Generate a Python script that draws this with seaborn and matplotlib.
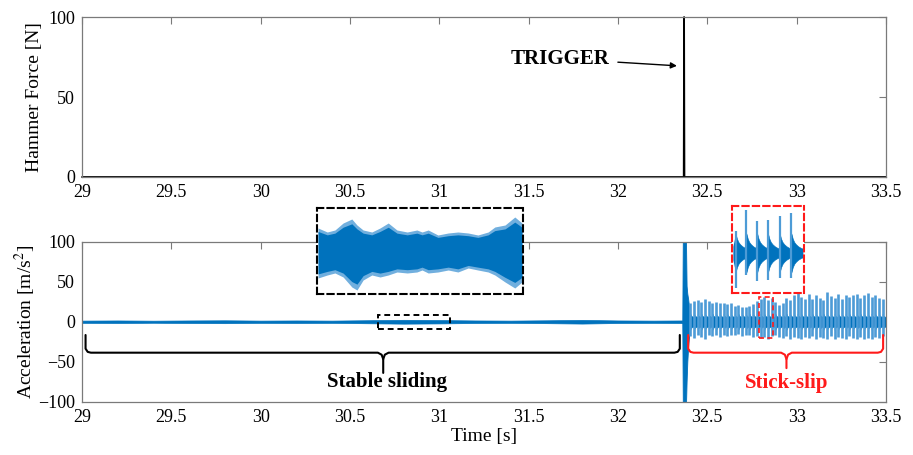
import numpy as np
import matplotlib
matplotlib.use("Agg")
import matplotlib.pyplot as plt
from matplotlib.patches import Rectangle
import seaborn as sns

# ---- data ----
# hammer force [N]
hammer_t = [29.0, 32.368, 32.370, 32.372, 33.5]
hammer_f = [0, 0, 100, 0, 0]

# stable sliding: acceleration envelope [m/s^2]
stable_t = [29.0, 29.2, 29.4, 29.6, 29.8, 30.0, 30.2, 30.4, 30.6, 30.8,
            31.0, 31.2, 31.4, 31.6, 31.8, 32.0, 32.2, 32.36]
stable_amp = [1.4, 1.6, 1.3, 1.6, 1.8, 1.4, 1.6, 1.4, 1.9, 2.4,
              2.1, 1.6, 1.4, 1.8, 2.3, 1.6, 1.4, 1.6]

# hammer hit transient
trig_t = [32.360, 32.363, 32.366, 32.372, 32.380, 32.384, 32.388, 32.393, 32.398, 32.403]
trig_up = [2, 110, 110, 110, 110, 45, 35, 28, 18, 10]
trig_lo = [-2, -110, -110, -110, -110, -75, -50, -30, -18, -10]

# stick-slip spikes
spike_t = [32.405, 32.426, 32.446, 32.467, 32.488, 32.508, 32.529, 32.550, 32.571, 32.591,
           32.612, 32.633, 32.653, 32.674, 32.695, 32.716, 32.736, 32.757, 32.778, 32.798,
           32.819, 32.840, 32.860, 32.881, 32.902, 32.923, 32.943, 32.964, 32.985, 33.005,
           33.026, 33.047, 33.067, 33.088, 33.109, 33.130, 33.150, 33.171, 33.192, 33.212,
           33.233, 33.254, 33.274, 33.295, 33.316, 33.337, 33.357, 33.378, 33.399, 33.419,
           33.440, 33.461, 33.481]
spike_peak = [24, 26, 27, 25, 28, 26, 24, 25, 23, 24,
              22, 23, 20, 21, 19, 18, 20, 22, 26, 29,
              31, 27, 30, 25, 21, 23, 30, 27, 33, 37,
              31, 29, 35, 28, 33, 30, 27, 37, 32, 30,
              35, 29, 34, 31, 33, 35, 30, 33, 36, 31,
              34, 30, 29]
spike_low = [-18, -20, -16, -19, -21, -17, -18, -16, -19, -17,
             -18, -16, -17, -15, -18, -16, -17, -19, -18, -20,
             -19, -21, -18, -17, -19, -20, -18, -21, -19, -20,
             -22, -19, -20, -18, -21, -19, -20, -22, -18, -21,
             -19, -20, -22, -18, -20, -21, -19, -22, -20, -21,
             -19, -20, -18]
tail_frac = [0, 0.12, 0.25, 0.4, 0.6, 0.8, 1.0]
main_tail = [10, 8.5, 7.5, 7, 6.5, 6, 6]

# zoom of stable sliding (black box)
zoom_st_t = [30.660, 30.678, 30.693, 30.709, 30.726, 30.736, 30.748, 30.765, 30.781, 30.797,
             30.814, 30.834, 30.853, 30.863, 30.875, 30.894, 30.914, 30.933, 30.953, 30.972,
             30.992, 31.005, 31.025, 31.044, 31.058]
zoom_st_up = [4.6, 3.8, 4.2, 5.6, 6.4, 5.2, 4.2, 3.8, 4.6, 5.6, 4.2, 3.8, 4.2,
              3.8, 4.2, 3.2, 3.6, 3.8, 3.6, 3.2, 3.8, 4.8, 5.2, 6.8, 5.6]
zoom_st_lo = [-5.4, -4.8, -4.4, -5.2, -7.2, -7.8, -5.8, -4.8, -5.2, -4.8, -4.2, -4.4, -4.2,
              -3.8, -4.4, -4.2, -3.8, -4.2, -3.4, -3.8, -4.2, -4.8, -6.2, -7.4, -6.2]

# zoom of stick-slip (red box)
zoom_ss_t = [32.793, 32.805, 32.817, 32.829, 32.842, 32.855]
zoom_ss_peak = [12.7, 25.4, 18.9, 19.5, 21.8, 23.6]
zoom_ss_low = [-20.7, -13.0, -16.5, -15.9, -14.8, -14.8]
zoom_tail = [11.5, 8.5, 6.5, 5.2, 4.0, 3.2, 2.6]

x_ticks = [29, 29.5, 30, 30.5, 31, 31.5, 32, 32.5, 33, 33.5]

blue = "#0072BD"
light_blue = "#4d9bd6"
red = "#FF1A1A"
gray = "#7a7a7a"

sns.set_style("white")
plt.rcParams["font.family"] = ["Liberation Serif", "DejaVu Serif"]
plt.rcParams["mathtext.fontset"] = "stix"
plt.rcParams["text.color"] = "black"
plt.rcParams["axes.labelcolor"] = "black"
plt.rcParams["xtick.labelcolor"] = "black"
plt.rcParams["ytick.labelcolor"] = "black"

fig = plt.figure(figsize=(9.13, 4.55), dpi=100)
ax1 = fig.add_axes([0.0898, 0.611, 0.8806, 0.3516])
ax2 = fig.add_axes([0.0898, 0.1171, 0.8806, 0.3516])


def style_axes(ax):
    for s in ax.spines.values():
        s.set_color(gray)
        s.set_linewidth(0.9)
    ax.tick_params(direction="in", length=5, width=0.8, color=gray,
                   top=True, right=True, labelsize=13, pad=5)
    ax.set_xlim(29, 33.5)
    ax.set_xticks(x_ticks)
    ax.set_xticklabels([f"{v:g}" for v in x_ticks])


def draw_spikes(ax, times, peaks, lows, tail, lw):
    period = np.diff(times).mean()
    for t, p, lo in zip(times, peaks, lows):
        seg = t + np.array(tail_frac) * period
        env = np.array(tail)
        ax.fill_between(seg, -env, env, color=blue, lw=0.4)
        ax.vlines(t, lo, p, color=light_blue, lw=lw)


def brace(ax, x0, x1, xm, y_end, y_bar, y_tip, color, r=0.03):
    kw = dict(color=color, lw=1.5, solid_joinstyle="round", solid_capstyle="round")
    ax.plot([x0, x0, x0 + r * 0.4, x0 + r, xm - r, xm - r * 0.3, xm, xm],
            [y_end, y_bar + 5, y_bar + 1, y_bar, y_bar, y_bar - 2.5, y_bar - 8, y_tip], **kw)
    ax.plot([x1, x1, x1 - r * 0.4, x1 - r, xm + r, xm + r * 0.3, xm],
            [y_end, y_bar + 5, y_bar + 1, y_bar, y_bar, y_bar - 2.5, y_bar - 8], **kw)


# ---- top: hammer force ----
sns.lineplot(x=hammer_t, y=hammer_f, ax=ax1, color="black", lw=1.3,
             estimator=None, sort=False, clip_on=False)
style_axes(ax1)
ax1.set_ylim(0, 100)
ax1.set_yticks([0, 50, 100])
ax1.set_ylabel("Hammer Force [N]", fontsize=14, labelpad=4)
ax1.annotate("TRIGGER", xy=(32.33, 69.5), xytext=(31.95, 74), ha="right", va="center",
             fontsize=15, fontweight="bold",
             arrowprops=dict(arrowstyle="-|>", color="black", lw=1, mutation_scale=9,
                             shrinkA=4, shrinkB=0))

# ---- bottom: acceleration ----
ax2.fill_between(stable_t, -np.array(stable_amp), stable_amp, color=blue, lw=0.5)
ax2.fill_between(trig_t, trig_lo, trig_up, color=blue, lw=0.6)
draw_spikes(ax2, spike_t, spike_peak, spike_low, main_tail, 1.9)
style_axes(ax2)
ax2.set_ylim(-100, 100)
ax2.set_yticks([-100, -50, 0, 50, 100])
ax2.set_ylabel("Acceleration [m/s$^2$]", fontsize=14, labelpad=0)
ax2.set_xlabel("Time [s]", fontsize=14, labelpad=2)

ax2.add_patch(Rectangle((30.658, -9.5), 0.402, 17.9, fill=False, ls=(0, (3, 2)),
                        ec="black", lw=1.4, zorder=5))
ax2.add_patch(Rectangle((32.79, -20.8), 0.078, 51.3, fill=False, ls=(0, (3, 2)),
                        ec=red, lw=1.2, zorder=5))

brace(ax2, 29.02, 32.346, 30.686, -16.6, -38.7, -64, "black")
brace(ax2, 32.393, 33.484, 32.943, -16.6, -38.7, -58, red)
ax2.text(30.705, -75, "Stable sliding", ha="center", va="center",
         fontsize=15, fontweight="bold")
ax2.text(32.943, -76, "Stick-slip", ha="center", va="center",
         fontsize=15, fontweight="bold", color=red)

# ---- insets ----
W, H = 913, 455
ins1 = fig.add_axes([317 / W, 1 - 294 / H, 206 / W, 86 / H])
ins1.fill_between(zoom_st_t, zoom_st_lo, zoom_st_up, color=light_blue, alpha=0.8, lw=0)
ins1.fill_between(zoom_st_t, np.array(zoom_st_lo) * 0.85, np.array(zoom_st_up) * 0.85,
                  color=blue, lw=0)
ins1.set_xlim(30.658, 31.06)
ins1.set_ylim(-8.6, 8.6)

ins2 = fig.add_axes([732 / W, 1 - 293 / H, 72 / W, 87 / H])
ins2.fill_between([32.79, 32.793], [-4, -11.5], [4, 11.5], color=blue, lw=0)
draw_spikes(ins2, zoom_ss_t, zoom_ss_peak, zoom_ss_low, zoom_tail, 1.6)
ins2.set_xlim(32.789, 32.869)
ins2.set_ylim(-23.6, 27.7)

for ins, c in [(ins1, "black"), (ins2, red)]:
    ins.set_facecolor("white")
    ins.set_xticks([])
    ins.set_yticks([])
    for s in ins.spines.values():
        s.set_color(c)
        s.set_linestyle((0, (3, 2)))
        s.set_linewidth(1.5)

fig.savefig("out.png", dpi=100)
